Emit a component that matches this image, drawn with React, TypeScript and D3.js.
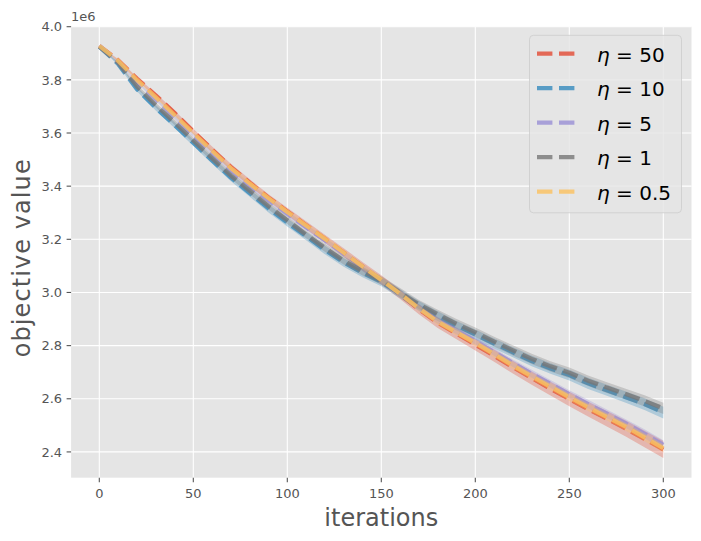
import React, { useEffect, useRef } from 'react';
import * as d3 from 'd3';

// iterations sampled every 10 steps
const iterations = [
  0, 10, 20, 30, 40, 50, 60, 70, 80, 90, 100, 110, 120, 130, 140, 150,
  160, 170, 180, 190, 200, 210, 220, 230, 240, 250, 260, 270, 280, 290, 300,
];

// mean objective value (x 1e6)
const eta50 = [
  3.928, 3.874, 3.805, 3.742, 3.676, 3.606, 3.538, 3.472, 3.413, 3.357, 3.305,
  3.253, 3.202, 3.15, 3.098, 3.047, 2.993, 2.937, 2.886, 2.845, 2.804, 2.762,
  2.719, 2.678, 2.638, 2.599, 2.561, 2.525, 2.488, 2.449, 2.409,
];
const eta10 = [
  3.925, 3.86, 3.765, 3.695, 3.63, 3.563, 3.497, 3.432, 3.374, 3.316, 3.263,
  3.212, 3.16, 3.113, 3.074, 3.04, 2.995, 2.95, 2.911, 2.875, 2.842, 2.808,
  2.775, 2.742, 2.714, 2.689, 2.658, 2.632, 2.606, 2.58, 2.548,
];
const eta5 = [
  3.928, 3.868, 3.792, 3.727, 3.66, 3.592, 3.525, 3.46, 3.402, 3.347, 3.296,
  3.245, 3.196, 3.146, 3.096, 3.047, 2.996, 2.943, 2.895, 2.856, 2.817, 2.776,
  2.734, 2.694, 2.656, 2.617, 2.58, 2.544, 2.507, 2.468, 2.427,
];
const eta1 = [
  3.925, 3.865, 3.775, 3.705, 3.64, 3.572, 3.505, 3.44, 3.383, 3.325, 3.272,
  3.218, 3.168, 3.12, 3.08, 3.045, 3.0, 2.955, 2.918, 2.882, 2.85, 2.815,
  2.782, 2.75, 2.722, 2.698, 2.668, 2.642, 2.618, 2.592, 2.564,
];
const eta05 = [
  3.928, 3.872, 3.8, 3.735, 3.668, 3.6, 3.533, 3.468, 3.41, 3.355, 3.303,
  3.252, 3.202, 3.15, 3.098, 3.048, 2.995, 2.94, 2.89, 2.85, 2.81, 2.768,
  2.725, 2.684, 2.645, 2.606, 2.568, 2.532, 2.495, 2.455, 2.414,
];

// spread around the mean (x 1e6)
const eta50Std = [
  0.0, 0.004, 0.006, 0.008, 0.009, 0.01, 0.011, 0.012, 0.013, 0.013, 0.014,
  0.015, 0.015, 0.016, 0.017, 0.018, 0.018, 0.019, 0.02, 0.021, 0.022, 0.023,
  0.024, 0.025, 0.026, 0.027, 0.028, 0.029, 0.03, 0.031, 0.032,
];
const eta10Std = [
  0.0, 0.005, 0.008, 0.01, 0.011, 0.012, 0.013, 0.014, 0.014, 0.015, 0.015,
  0.016, 0.016, 0.016, 0.017, 0.017, 0.017, 0.018, 0.018, 0.018, 0.019, 0.019,
  0.019, 0.02, 0.02, 0.02, 0.021, 0.021, 0.021, 0.022, 0.022,
];
const eta5Std = [
  0.0, 0.003, 0.005, 0.006, 0.007, 0.008, 0.008, 0.009, 0.009, 0.01, 0.01,
  0.011, 0.011, 0.011, 0.012, 0.012, 0.012, 0.013, 0.013, 0.013, 0.014, 0.014,
  0.014, 0.015, 0.015, 0.015, 0.016, 0.016, 0.016, 0.017, 0.017,
];
const eta1Std = [
  0.0, 0.004, 0.007, 0.009, 0.01, 0.011, 0.012, 0.012, 0.013, 0.013, 0.014,
  0.014, 0.015, 0.015, 0.016, 0.016, 0.017, 0.017, 0.017, 0.018, 0.018, 0.018,
  0.019, 0.019, 0.019, 0.02, 0.02, 0.02, 0.02, 0.021, 0.021,
];
const eta05Std = [
  0.0, 0.003, 0.004, 0.005, 0.006, 0.007, 0.007, 0.008, 0.008, 0.009, 0.009,
  0.009, 0.01, 0.01, 0.01, 0.011, 0.011, 0.011, 0.012, 0.012, 0.012, 0.013,
  0.013, 0.013, 0.013, 0.014, 0.014, 0.014, 0.015, 0.015, 0.015,
];

const seriesLabels = ['50', '10', '5', '1', '0.5'];
const seriesMeans = [eta50, eta10, eta5, eta1, eta05];
const seriesStds = [eta50Std, eta10Std, eta5Std, eta1Std, eta05Std];
const seriesColors = ['#E24A33', '#348ABD', '#988ED5', '#777777', '#FBC15E'];

const xTicks = [0, 50, 100, 150, 200, 250, 300];
const yTicks = [2.4, 2.6, 2.8, 3.0, 3.2, 3.4, 3.6, 3.8, 4.0];

const W = 701;
const H = 541;
const FONT = '"DejaVu Sans", sans-serif';

export default function App() {
  const svgRef = useRef<SVGSVGElement>(null);

  useEffect(() => {
    if (!svgRef.current) return;
    const root = d3.select(svgRef.current);
    root.selectAll('*').remove();

    const plot = { left: 71.1, right: 691.5, top: 26.7, bottom: 477.7 };

    const x = d3.scaleLinear().domain([-15, 315]).range([plot.left, plot.right]);
    const y = d3.scaleLinear().domain([2.303, 4.0]).range([plot.bottom, plot.top]);

    root.append('rect').attr('width', W).attr('height', H).attr('fill', '#ffffff');

    // axes background
    root
      .append('rect')
      .attr('x', plot.left)
      .attr('y', plot.top)
      .attr('width', plot.right - plot.left)
      .attr('height', plot.bottom - plot.top)
      .attr('fill', '#E5E5E5');

    // grid
    const grid = root.append('g').attr('stroke', '#ffffff').attr('stroke-width', 1.1);
    xTicks.forEach((t) => {
      grid.append('line').attr('x1', x(t)).attr('x2', x(t)).attr('y1', plot.top).attr('y2', plot.bottom);
    });
    yTicks.forEach((t) => {
      grid.append('line').attr('x1', plot.left).attr('x2', plot.right).attr('y1', y(t)).attr('y2', y(t));
    });

    root
      .append('defs')
      .append('clipPath')
      .attr('id', 'plotclip')
      .append('rect')
      .attr('x', plot.left)
      .attr('y', plot.top)
      .attr('width', plot.right - plot.left)
      .attr('height', plot.bottom - plot.top);

    const marks = root.append('g').attr('clip-path', 'url(#plotclip)');

    // band then dashed mean line, per series
    seriesMeans.forEach((means, si) => {
      const stds = seriesStds[si];
      const pts = iterations.map((t, i) => ({ t, m: means[i], s: stds[i] }));

      const area = d3
        .area<{ t: number; m: number; s: number }>()
        .x((d) => x(d.t))
        .y0((d) => y(d.m - d.s))
        .y1((d) => y(d.m + d.s));
      marks
        .append('path')
        .attr('d', area(pts))
        .attr('fill', seriesColors[si])
        .attr('fill-opacity', 0.3);

      const line = d3
        .line<{ t: number; m: number; s: number }>()
        .x((d) => x(d.t))
        .y((d) => y(d.m));
      marks
        .append('path')
        .attr('d', line(pts))
        .attr('fill', 'none')
        .attr('stroke', seriesColors[si])
        .attr('stroke-opacity', 0.8)
        .attr('stroke-width', 4.2)
        .attr('stroke-dasharray', '15.4 6.6')
        .attr('stroke-linejoin', 'round');
    });

    // ticks
    const axis = root.append('g').attr('font-family', FONT).attr('font-size', 13).attr('fill', '#555555');
    xTicks.forEach((t) => {
      axis
        .append('line')
        .attr('x1', x(t))
        .attr('x2', x(t))
        .attr('y1', plot.bottom)
        .attr('y2', plot.bottom + 4.5)
        .attr('stroke', '#555555')
        .attr('stroke-width', 1.1);
      axis
        .append('text')
        .attr('x', x(t))
        .attr('y', 498.3)
        .attr('text-anchor', 'middle')
        .text(String(t));
    });
    yTicks.forEach((t) => {
      axis
        .append('line')
        .attr('x1', plot.left - 4.5)
        .attr('x2', plot.left)
        .attr('y1', y(t))
        .attr('y2', y(t))
        .attr('stroke', '#555555')
        .attr('stroke-width', 1.1);
      axis
        .append('text')
        .attr('x', plot.left - 9)
        .attr('y', y(t))
        .attr('dy', '0.36em')
        .attr('text-anchor', 'end')
        .text(t.toFixed(1));
    });
    axis.append('text').attr('x', plot.left).attr('y', 20.5).text('1e6');

    // axis labels
    root
      .append('text')
      .attr('x', (plot.left + plot.right) / 2)
      .attr('y', 525.7)
      .attr('text-anchor', 'middle')
      .attr('font-family', FONT)
      .attr('font-size', 24)
      .attr('fill', '#555555')
      .text('iterations');
    root
      .append('text')
      .attr('transform', 'translate(29.5, 258.3) rotate(-90)')
      .attr('text-anchor', 'middle')
      .attr('font-family', FONT)
      .attr('font-size', 24)
      .attr('textLength', 198)
      .attr('lengthAdjust', 'spacing')
      .attr('fill', '#555555')
      .text('objective value');

    // legend
    const lg = root.append('g');
    lg.append('rect')
      .attr('x', 529.5)
      .attr('y', 35.3)
      .attr('width', 152)
      .attr('height', 177.5)
      .attr('rx', 4)
      .attr('fill', '#E5E5E5')
      .attr('fill-opacity', 0.8)
      .attr('stroke', '#cccccc')
      .attr('stroke-opacity', 0.8)
      .attr('stroke-width', 1);
    seriesLabels.forEach((lab, i) => {
      const ly = 53.6 + i * 34.5;
      lg.append('line')
        .attr('x1', 537)
        .attr('x2', 575)
        .attr('y1', ly)
        .attr('y2', ly)
        .attr('stroke', seriesColors[i])
        .attr('stroke-opacity', 0.8)
        .attr('stroke-width', 4.2)
        .attr('stroke-dasharray', '15.4 6.6');
      const tx = lg
        .append('text')
        .attr('x', 597)
        .attr('y', ly + 8.3)
        .attr('font-family', FONT)
        .attr('font-size', 20)
        .attr('fill', '#000000');
      tx.append('tspan').attr('font-style', 'italic').text('η');
      tx.append('tspan').text(` = ${lab}`);
    });
  }, []);

  return (
    <svg
      ref={svgRef}
      width={W}
      height={H}
      style={{ position: 'absolute', left: 0, top: 0, display: 'block' }}
    ></svg>
  );
}
